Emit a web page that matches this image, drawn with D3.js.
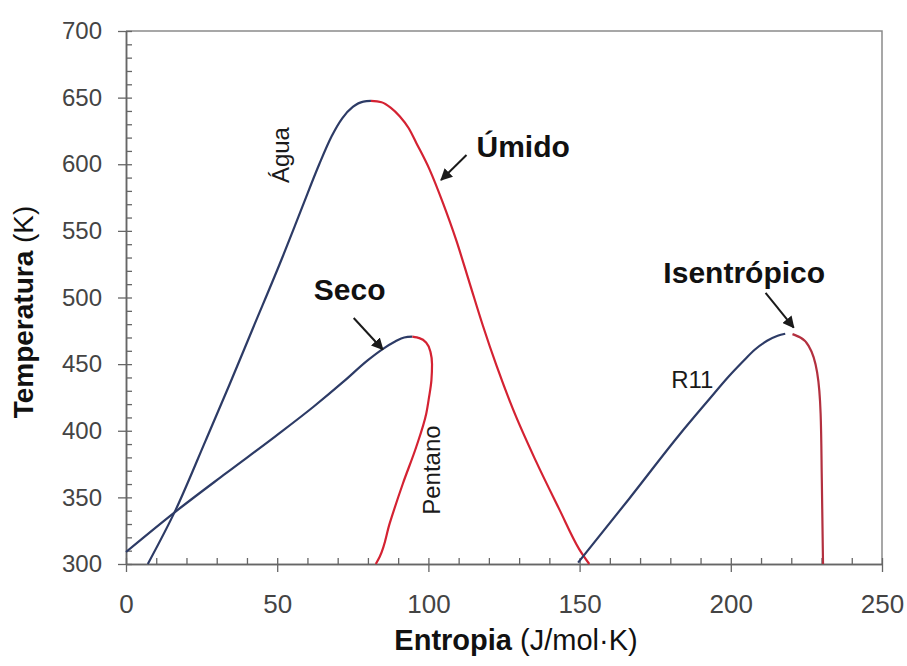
<!DOCTYPE html>
<html><head><meta charset="utf-8">
<script src="https://cdn.jsdelivr.net/npm/d3@7"></script>
<style>
html,body{margin:0;padding:0;background:#fff;}
svg{display:block;font-family:"Liberation Sans",Arial,sans-serif;}
</style></head>
<body><svg id="c" width="907" height="666"></svg>
<script>
// ---- data (entropy S in J/mol·K, temperature T in K) ----
const waterLiqS = [7.2,16.5,26.4,34.1,41.8,51.7,58.3,63.9,68,71.5,75,78.5,81];
const waterLiqT = [300,341,393,434,476,530,568,600,621,634.5,643,647,647.5];
const waterVapS = [81,84.5,87.5,90.5,93.5,96,100.4,104.8,109.2,113.6,118,122.5,128,135.6,143.3,149.9,153.2];
const waterVapT = [647.5,646.5,642.5,636,627,616,596,571,543,511,479,449,416,377,341,311,300];
const pentLiqS = [0,16.5,33,49.5,62,72,80,85,89,92,94.7];
const pentLiqT = [309,339.5,368,396,418,437,453,461.5,467,470,470.6];
const pentVapS = [94.7,97,99.3,100.7,101.2,101,100.2,99.3,96,91.6,87.2,83.9,82.6];
const pentVapT = [470.6,469.5,466,459,450,438,425,413,388,360.6,330.5,305.5,300];
const r11LiqS = [149.5,166.4,183,193,199,204,208,212,215.5,218];
const r11LiqT = [301,349,397,424,440,452,461,467.5,471.3,472.8];
const r11VapS = [220.4,223,225.9,228.6,229.7,230.1,230.5];
const r11VapT = [472.5,470,463,443,413,363,300];
const xMajor = [0,50,100,150,200,250];
const yMajor = [300,350,400,450,500,550,600,650,700];
const xMinor = d3.range(0,251,10);
const yMinor = d3.range(300,701,10);
// annotation labels [S, T, text, rotated]
const curveLabels = [[53.8,606.9,"Água",true],[104,370.5,"Pentano",true],[180.3,432.1,"R11",false]];
const typeLabels = [[115.9,605.7,"Úmido"],[62.1,498.1,"Seco"],[177.7,510.9,"Isentrópico"]];
const arrows = [[112.6,606.9,104.2,588.2],[75.3,484.6,84.9,461],[211.5,503.4,220.8,477.4]];

const L=126,R=882,T=31,B=564;
const x = d3.scaleLinear().domain([0,250]).range([L,R]);
const y = d3.scaleLinear().domain([300,700]).range([B,T]);
const svg = d3.select("#c");
const BLUE="#2d3b66", RED="#d42232", RED2="#b3303f", AX="#666";

// frame
svg.append("path").attr("d",`M${L},${T}H${R}V${B}`).attr("fill","none").attr("stroke","#8a8a8a").attr("stroke-width",1.5);

// y axis
const gy = svg.append("g").attr("transform",`translate(${L},0)`);
gy.call(d3.axisLeft(y).tickValues(yMajor).tickSize(8).tickPadding(16).tickSizeOuter(0));
gy.append("g").call(d3.axisRight(y).tickValues(yMinor).tickSize(6).tickFormat("").tickSizeOuter(0));
gy.selectAll("text").attr("font-size",24).attr("fill","#444").attr("font-family","Liberation Sans, Arial, sans-serif");
gy.selectAll("line").attr("stroke",AX).attr("stroke-width",1.3);
gy.selectAll(".domain").attr("stroke",AX).attr("stroke-width",1.5);

// x axis
const gx = svg.append("g").attr("transform",`translate(0,${B})`);
gx.call(d3.axisBottom(x).tickValues(xMajor).tickSize(8).tickPadding(23).tickSizeOuter(0));
gx.append("g").call(d3.axisTop(x).tickValues(xMinor).tickSize(6).tickFormat("").tickSizeOuter(0));
gx.selectAll("text").attr("font-size",26).attr("fill","#444").attr("font-family","Liberation Sans, Arial, sans-serif");
gx.selectAll("line").attr("stroke",AX).attr("stroke-width",1.3);
gx.selectAll(".domain").attr("stroke",AX).attr("stroke-width",1.5);

// curves
const lineX = d3.line().x(d=>x(d[0])).y(d=>y(d[1])).curve(d3.curveMonotoneX);
const lineY = d3.line().x(d=>x(d[0])).y(d=>y(d[1])).curve(d3.curveMonotoneY);
function draw(S,Tv,col,gen){
  svg.append("path").datum(S.map((s,i)=>[s,Tv[i]])).attr("d",gen)
    .attr("fill","none").attr("stroke",col).attr("stroke-width",2.2).attr("stroke-linejoin","round");
}
draw(waterLiqS,waterLiqT,BLUE,lineX);
draw(waterVapS,waterVapT,RED,lineX);
draw(pentLiqS,pentLiqT,BLUE,lineX);
draw(pentVapS,pentVapT,RED,lineY);
draw(r11LiqS,r11LiqT,BLUE,lineX);
draw(r11VapS,r11VapT,RED2,lineY);

// arrows
const defs = svg.append("defs");
defs.append("marker").attr("id","ah").attr("viewBox","0 0 10 10").attr("refX",9).attr("refY",5)
  .attr("markerWidth",6).attr("markerHeight",6).attr("orient","auto")
  .append("path").attr("d","M0,0L10,5L0,10z").attr("fill","#1a1a1a");
arrows.forEach(a=>{
  svg.append("line").attr("x1",x(a[0])).attr("y1",y(a[1])).attr("x2",x(a[2])).attr("y2",y(a[3]))
    .attr("stroke","#1a1a1a").attr("stroke-width",2).attr("marker-end","url(#ah)");
});

// curve labels
curveLabels.forEach(c=>{
  const t = svg.append("text").attr("font-size",24).attr("fill","#1a1a1a").text(c[2]);
  if(c[3]) t.attr("text-anchor","middle").attr("transform",`translate(${x(c[0])},${y(c[1])}) rotate(-90)`);
  else t.attr("x",x(c[0])).attr("y",y(c[1])).attr("text-anchor","start");
});
typeLabels.forEach(c=>{
  svg.append("text").attr("x",x(c[0])).attr("y",y(c[1])).attr("font-size",30).attr("font-weight","bold")
    .attr("fill","#111").text(c[2]);
});

// axis titles
const xt = svg.append("text").attr("x",516).attr("y",650).attr("text-anchor","middle").attr("font-size",29).attr("fill","#111");
xt.append("tspan").attr("font-weight","bold").text("Entropia");
xt.append("tspan").text(" (J/mol·K)");
const yt = svg.append("text").attr("transform","translate(33,312) rotate(-90)").attr("text-anchor","middle").attr("font-size",28).attr("fill","#111");
yt.append("tspan").attr("font-weight","bold").text("Temperatura");
yt.append("tspan").text(" (K)");
</script></body></html>
